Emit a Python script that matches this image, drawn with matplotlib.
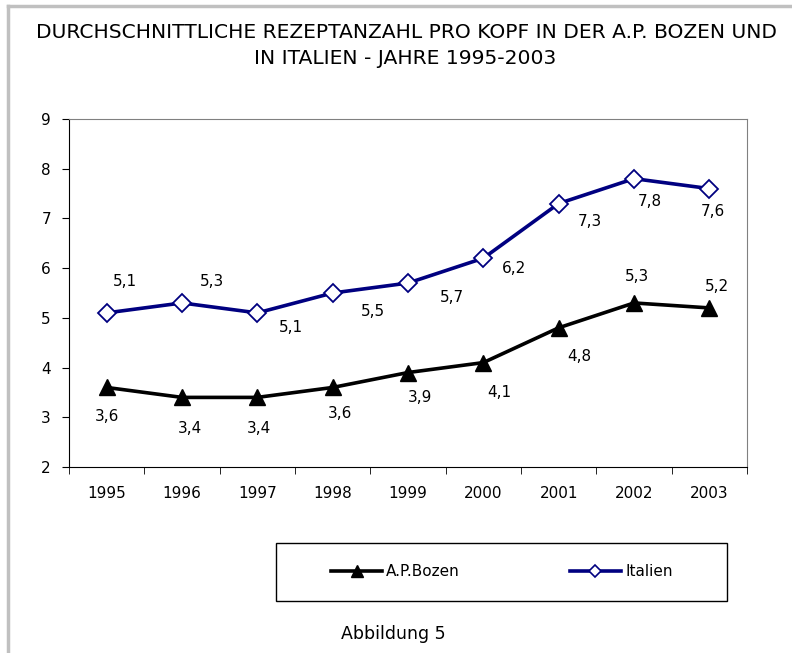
import numpy as np
import matplotlib
matplotlib.use("Agg")
import matplotlib.pyplot as plt
from matplotlib.lines import Line2D
from matplotlib.patches import Rectangle

# data
years = ["1995", "1996", "1997", "1998", "1999", "2000", "2001", "2002", "2003"]
bozen = [3.6, 3.4, 3.4, 3.6, 3.9, 4.1, 4.8, 5.3, 5.2]
italien = [5.1, 5.3, 5.1, 5.5, 5.7, 6.2, 7.3, 7.8, 7.6]

# label offsets in pixels (dx, dy)
off_bozen = [(0, -29), (8, -31), (2, -31), (7, -26), (12, -25), (16, -30), (21, -29), (3, 26), (8, 21)]
off_italien = [(18, 31), (30, 21), (34, -15), (40, -19), (44, -14), (31, -10), (31, -18), (16, -23), (4, -23)]

plt.rcParams['font.family'] = ['DejaVu Sans']

W, H = 792, 653
fig = plt.figure(figsize=(W / 100, H / 100), dpi=100)
ax = fig.add_axes([69 / W, 1 - 467 / H, (747 - 69) / W, (467 - 119) / H])

x = np.arange(len(years))
navy = "#000080"
ax.plot(x, bozen, color="black", lw=2.6, marker="^", ms=11, mfc="black", mec="black", zorder=3)
ax.plot(x, italien, color=navy, lw=2.6, marker="D", ms=9, mfc="white", mec=navy, mew=1.3, zorder=3)

for i in range(len(years)):
    ax.annotate(f"{bozen[i]:.1f}".replace(".", ","), (x[i], bozen[i]), xytext=off_bozen[i],
                textcoords="offset pixels", ha="center", va="center", fontsize=11)
    ax.annotate(f"{italien[i]:.1f}".replace(".", ","), (x[i], italien[i]), xytext=off_italien[i],
                textcoords="offset pixels", ha="center", va="center", fontsize=11)

ax.set_xlim(-0.5, len(years) - 0.5)
ax.set_ylim(2, 9)
ax.set_yticks(range(2, 10))
ax.set_xticks(x)
ax.set_xticklabels(years, fontsize=11)
ax.set_xticks(np.arange(-0.5, len(years)), minor=True)
ax.tick_params(axis="x", which="major", length=0, pad=14)
ax.tick_params(axis="x", which="minor", length=5, direction="out", color="black")
ax.tick_params(axis="y", length=5, direction="out", labelsize=11, pad=8)
for s in ["top", "right"]:
    ax.spines[s].set_color("#808080")
for s in ["left", "bottom"]:
    ax.spines[s].set_color("black")

fig.text(407 / W, 1 - 32 / H, "DURCHSCHNITTLICHE REZEPTANZAHL PRO KOPF IN DER A.P. BOZEN UND",
         ha="center", va="center", fontsize=14.6)
fig.text(405 / W, 1 - 58 / H, "IN ITALIEN - JAHRE 1995-2003", ha="center", va="center", fontsize=14.6)

# legend
fig.patches.append(Rectangle((276 / W, 1 - 601 / H), (727 - 276) / W, (601 - 543) / H,
                             transform=fig.transFigure, fill=False, ec="black", lw=1))
h1 = Line2D([], [], color="black", lw=2.6, marker="^", ms=8, mfc="black")
h2 = Line2D([], [], color=navy, lw=2.6, marker="D", ms=6, mfc="white", mec=navy, mew=1.2)
fig.legend([h1, h2], ["A.P.Bozen", "Italien"], loc="center", bbox_to_anchor=(502 / W, 1 - 572 / H),
           ncol=2, frameon=False, fontsize=11, handlelength=3.3, handletextpad=0.3, columnspacing=7.2)

fig.text(393 / W, 1 - 634 / H, "Abbildung 5", ha="center", va="center", fontsize=12.5)

# grey page border
fig.add_artist(Line2D([8 / W, 8 / W], [0, 1 - 6 / H], transform=fig.transFigure, color="#c0c0c0", lw=2.5))
fig.add_artist(Line2D([8 / W, 1], [1 - 6 / H, 1 - 6 / H], transform=fig.transFigure, color="#c0c0c0", lw=2.5))

fig.savefig("out.png", dpi=100, facecolor="white")
